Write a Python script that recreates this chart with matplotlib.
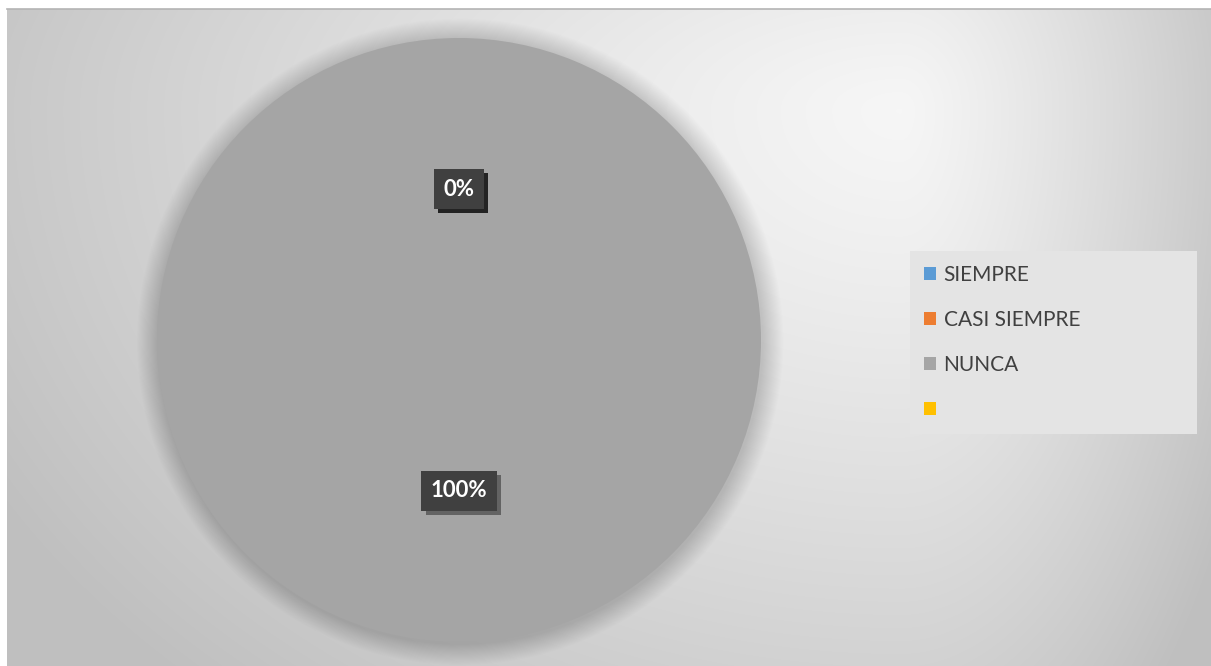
import numpy as np
import matplotlib
matplotlib.use("Agg")
import matplotlib.pyplot as plt
from matplotlib.patches import Patch, Circle
from matplotlib.lines import Line2D
import matplotlib.patheffects as pe

# ---------------------------------------------------------
# DATA
# ---------------------------------------------------------
categories = ["SIEMPRE", "CASI SIEMPRE", "NUNCA", " "]
values = [0, 0, 20, 0]
slice_colors = ["#5b9bd5", "#ed7d31", "#a5a5a5", "#ffc000"]

W, H = 1211, 666
plt.rcParams["font.family"] = ["Lato", "DejaVu Sans"]

fig = plt.figure(figsize=(W / 100, H / 100), dpi=100)
fig.patch.set_facecolor("white")

# ---------------------------------------------------------
# Chart-area background (soft radial gradient)
# ---------------------------------------------------------
x0, y_top = 7, 9
bg = fig.add_axes([x0 / W, 0, (W - x0) / W, (H - y_top) / H])
bg.set_axis_off()
xs = np.arange(x0, W)
ys = np.arange(y_top, H)
X, Y = np.meshgrid(xs, ys)
cx, cy = 900, 110
dx = X - cx
dy = Y - cy
sx = np.where(dx < 0, 900.0, 330.0)
sy = np.where(dy > 0, 680.0, 420.0)
t = np.clip(np.sqrt((dx / sx) ** 2 + (dy / sy) ** 2), 0, 1.15)
shade = 0.965 - 0.18 * t ** 1.2
bg.imshow(np.dstack([shade, shade, shade]), aspect="auto", interpolation="bilinear",
          extent=(0, 1, 0, 1), origin="upper")
bg.set_xlim(0, 1)
bg.set_ylim(0, 1)
fig.add_artist(Line2D([x0 / W, 1], [1 - y_top / H, 1 - y_top / H],
                      color="#b4b4b4", lw=1.2))

# ---------------------------------------------------------
# Pie
# ---------------------------------------------------------
R_px = 302
lim = 1.2
cxp, cyp = 459, 340
size = 2 * lim * R_px
ax = fig.add_axes([(cxp - size / 2) / W, (H - cyp - size / 2) / H, size / W, size / H])

# soft glow/shadow around pie
n_glow = 20
for k in range(n_glow):
    r = 1.0 + (n_glow - k) * 0.0035
    ax.add_patch(Circle((0.004, -0.006), r, color="black", alpha=0.007, lw=0, zorder=0))

wedges, texts, autotexts = ax.pie(
    values, colors=slice_colors, startangle=90, counterclock=False,
    autopct="%1.0f%%", pctdistance=0.5,
    wedgeprops=dict(linewidth=0), textprops=dict(color="white", fontsize=16,
                                                 fontweight="bold"))
for w in wedges:
    w.set_zorder(2)
for at in autotexts:
    at.set_zorder(5)
    at.set_bbox(dict(boxstyle="square,pad=0.42", facecolor="#404040", edgecolor="none"))
    at.get_bbox_patch().set_path_effects([
        pe.SimplePatchShadow(offset=(3, -3), shadow_rgbFace="black", alpha=0.4),
        pe.Normal()])
ax.set_xlim(-lim, lim)
ax.set_ylim(-lim, lim)
ax.set_aspect("equal")
ax.set_axis_off()

# ---------------------------------------------------------
# Legend
# ---------------------------------------------------------
handles = [Patch(facecolor=c, edgecolor="none") for c in slice_colors]
leg = fig.legend(handles, categories, loc="upper left",
                 bbox_to_anchor=(910 / W, (H - 431) / H, 287 / W, 180 / H),
                 mode="expand", frameon=True, fancybox=False,
                 fontsize=15, labelcolor="#404040",
                 handlelength=0.58, handleheight=0.58, handletextpad=0.35,
                 labelspacing=1.2, borderpad=0.68, borderaxespad=0)
leg.get_frame().set_facecolor("#e4e4e4")
leg.get_frame().set_edgecolor("none")
leg.get_frame().set_alpha(1)

plt.savefig("out.png", dpi=100)
